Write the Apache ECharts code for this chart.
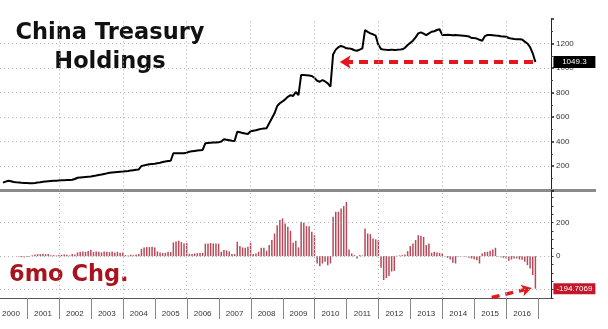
<!DOCTYPE html>
<html><head><meta charset="utf-8">
<script src="https://cdn.jsdelivr.net/npm/echarts@6/dist/echarts.min.js"></script>
<style>html,body{margin:0;padding:0;background:#fff}#c{width:608px;height:329px}</style>
</head><body><div id="c"></div>
<script>
// Year categories for the bottom axis
const years = ['2000','2001','2002','2003','2004','2005','2006','2007','2008','2009','2010','2011','2012','2013','2014','2015','2016'];
// Monthly data, first month = March 2000, last = November 2016 (201 months)
const firstMonth = '2000-03';
// China Treasury holdings ($bn)
const holdings = [
  64, 72, 80, 76, 70, 67, 65, 63, 62, 61,
  59, 60, 62, 65, 68, 72, 74, 76, 78, 79, 80, 82,
  83, 84, 85, 86, 88, 94, 104, 106, 108, 110, 112, 114,
  118, 122, 127, 130, 135, 140, 145, 147, 149, 151, 153, 155,
  158, 160, 163, 166, 169, 172, 200, 205, 210, 214, 216, 218,
  222, 226, 232, 236, 240, 243, 304, 304, 304, 304, 305, 308,
  317, 320, 323, 326, 329, 331, 385, 388, 390, 391, 392, 393,
  400, 418, 414, 410, 406, 404, 480, 475, 470, 465, 461, 484,
  488, 492, 498, 503, 506, 508, 549, 590, 630, 690, 712, 727,
  744, 765, 778, 772, 804, 779, 943, 942, 940, 938, 935, 920,
  896, 888, 902, 890, 875, 847, 1110, 1150, 1170, 1180, 1172, 1161,
  1160, 1155, 1145, 1141, 1150, 1161, 1310, 1295, 1283, 1275, 1264, 1190,
  1155, 1150, 1148, 1147, 1150, 1147, 1148, 1150, 1153, 1165, 1188, 1205,
  1223, 1250, 1283, 1291, 1280, 1269, 1282, 1296, 1300, 1310, 1316, 1270,
  1270, 1272, 1270, 1268, 1270, 1268, 1266, 1264, 1262, 1258, 1245, 1244,
  1240, 1230, 1223, 1260, 1269, 1270, 1268, 1265, 1263, 1260, 1258, 1255,
  1245, 1240, 1236, 1234, 1234, 1232, 1215, 1200, 1170, 1120, 1049.3
];
// 6-month change ($bn)
const change6m = [
  null, null, null, null, null, null, -4, -6, -8, -5,
  -3, 5, 10, 12, 12, 14, 12, 12, 5, 6, 4, 6,
  8, 10, 8, 4, 12, 10, 22, 26, 28, 26, 30, 38,
  24, 28, 26, 22, 28, 26, 24, 28, 22, 26, 20, 22,
  6, 4, 8, 6, 10, 12, 44, 52, 54, 54, 56, 52,
  28, 22, 18, 20, 26, 24, 82, 88, 92, 84, 76, 78,
  14, 12, 16, 18, 18, 20, 74, 76, 78, 76, 76, 74,
  26, 36, 34, 28, 12, 12, 86, 60, 52, 50, 56, 80,
  12, 16, 26, 50, 50, 32, 66, 96, 135, 185, 215, 225,
  195, 175, 151, 80, 92, 52, 205, 200, 179, 179, 145, 125,
  -44, -60, -44, -34, -54, -44, 235, 265, 265, 285, 299, 324,
  40, 16, 6, -14, 6, 4, 165, 135, 131, 105, 100, 95,
  -70, -143, -131, -119, -92, -88, 2, 4, 6, 10, 30, 60,
  76, 96, 125, 121, 115, 66, 76, 20, 26, 22, 20, 15,
  -3, -10, -20, -40, -44, -3, -2, -2, -4, -10, -14, -18,
  -24, -44, 16, 24, 26, 32, 40, 50, -4, -6, -10, -14,
  -28, -20, -14, -14, -20, -22, -34, -54, -74, -113, -194.7069
];
const upperTicks = [200, 400, 600, 800, 1000, 1200];
const lowerGridValues = [-200, 0, 200];
const lowerLabelValues = [-200, 0, 200];
const lastHolding = '1049.3';
const lastChange = '-194.7069';

const n = holdings.length;
const lastI = n - 1;
const lineData = holdings.map((v, i) => [i, v]);
const barData = change6m.map((v, i) => [i, v]);
// month index of each even-year boundary (December month-end of previous year)
const boundaryIdx = years.filter(y => +y % 2 === 0 && +y > 2000).map(y => (+y - 2000) * 12 - 3);
// year bands: [center month index, end boundary month index]
const yearBands = years.map((y, k) => [k * 12 + 3, k * 12 + 9]);

const XMIN = -1.127, XMAX = 205.86, LMIN = -250, LMAX = 390;
const dotted = { color: '#b8b8b8', width: 1, type: [1.2, 2.8] };
const TITLE_FONT = 'bold 22.5px "DejaVu Sans"';
const errs = [];

const chart = echarts.init(document.getElementById('c'), null, { renderer: 'canvas' });
try {
chart.setOption({
  animation: false,
  backgroundColor: '#fff',
  grid: [
    { left: 0, right: 57, top: 19, height: 171.5 },
    { left: 0, right: 57, top: 190.8, height: 107.2 }
  ],
  xAxis: [
    { type: 'value', gridIndex: 0, min: XMIN, max: XMAX, axisLabel: { show: false }, axisTick: { show: false },
      splitLine: { show: false }, axisLine: { show: true, onZero: false, lineStyle: { color: '#8a8a8a', width: 3 } } },
    { type: 'value', gridIndex: 1, min: XMIN, max: XMAX, axisLabel: { show: false }, axisTick: { show: false },
      splitLine: { show: false }, axisLine: { show: true, onZero: false, lineStyle: { color: '#555', width: 1 } } }
  ],
  yAxis: [
    { type: 'value', gridIndex: 0, position: 'right', min: 0, max: 1400, interval: 200,
      axisLine: { show: true, onZero: false, lineStyle: { color: '#222', width: 1 } },
      axisTick: { show: true, length: 3, lineStyle: { color: '#222', width: 1.5 } },
      minorTick: { show: true, splitNumber: 2, length: 2, lineStyle: { color: '#444' } },
      splitLine: { show: true, showMinLine: false, showMaxLine: false, lineStyle: dotted },
      axisLabel: { fontSize: 8, color: '#333', margin: 5, fontFamily: 'Liberation Sans',
        formatter: v => (upperTicks.indexOf(v) >= 0 ? String(v) : '') } },
    { type: 'value', gridIndex: 1, position: 'right', min: LMIN, max: LMAX, interval: 50,
      axisLine: { show: true, onZero: false, lineStyle: { color: '#222', width: 1 } },
      axisTick: { show: true, length: 2.5, lineStyle: { color: '#333', width: 1 } },
      splitLine: { show: false },
      axisLabel: { fontSize: 8, color: '#333', margin: 5, fontFamily: 'Liberation Sans',
        formatter: v => (lowerLabelValues.indexOf(v) >= 0 ? String(v) : '') } }
  ],
  series: [
    { id: 'line', type: 'line', name: 'Holdings', xAxisIndex: 0, yAxisIndex: 0, data: lineData, showSymbol: false, symbol: 'none',
      lineStyle: { color: '#000', width: 2 }, z: 3, silent: true },
    { id: 'bar', type: 'bar', name: '6mo Chg.', xAxisIndex: 1, yAxisIndex: 1, data: barData, barWidth: 1.5,
      itemStyle: { color: '#b94a5a' }, z: 3, silent: true },
    { id: 'years', type: 'custom', xAxisIndex: 1, yAxisIndex: 1, data: yearBands, clip: false, silent: true, z: 2,
      renderItem: function (params, api) {
        const c = api.coord([api.value(0), LMIN]);
        const b = api.coord([api.value(1), LMIN]);
        return { type: 'group', children: [
          { type: 'text', x: c[0], y: c[1] + 16, style: { text: years[params.dataIndex], fill: '#333',
            font: '8px "Liberation Sans"', align: 'center', verticalAlign: 'middle' } },
          { type: 'line', shape: { x1: Math.round(b[0]) + 0.5, y1: b[1], x2: Math.round(b[0]) + 0.5, y2: b[1] + 21 },
            style: { stroke: '#888', lineWidth: 1 } }
        ] };
      } }
  ],
  graphic: [
    { type: 'line', shape: { x1: 551, y1: 190.5, x2: 596, y2: 190.5 }, style: { stroke: '#8a8a8a', lineWidth: 3 }, silent: true },
    { type: 'text', x: 110, y: 33.5, style: { text: 'China Treasury', font: TITLE_FONT, fill: '#111', align: 'center', verticalAlign: 'middle' } },
    { type: 'text', x: 110, y: 62.5, style: { text: 'Holdings', font: TITLE_FONT, fill: '#111', align: 'center', verticalAlign: 'middle' } },
    { type: 'text', x: 9, y: 275, style: { text: '6mo Chg.', font: TITLE_FONT, fill: '#a8141e', align: 'left', verticalAlign: 'middle' } }
  ]
});
} catch (e) { errs.push('base: ' + e.message); }

try {
chart.setOption({ series: [
  { id: 'line',
    markLine: { silent: true, label: { show: false }, animation: false, symbol: 'none',
      lineStyle: dotted,
      data: boundaryIdx.map(x => ({ xAxis: x })) } },
  { id: 'bar',
    markLine: { silent: true, label: { show: false }, animation: false, symbol: 'none',
      lineStyle: dotted,
      data: boundaryIdx.map(x => ({ xAxis: x })).concat(lowerGridValues.map(y => ({ yAxis: y }))) } }
] });
} catch (e) { errs.push('grid: ' + e.message); }

try {
chart.setOption({ series: [
  { id: 'line',
    markPoint: { silent: true, animation: false,
      data: [{ coord: [lastI, +lastHolding], symbol: 'rect', symbolSize: [42, 12], symbolOffset: [39, 0],
        itemStyle: { color: '#000' },
        label: { show: true, position: 'inside', formatter: lastHolding, color: '#fff', fontSize: 8, fontFamily: 'Liberation Sans' } }] } },
  { id: 'bar',
    markPoint: { silent: true, animation: false,
      data: [{ coord: [lastI, +lastChange], symbol: 'rect', symbolSize: [42, 11], symbolOffset: [39, 0],
        itemStyle: { color: '#c3182b' },
        label: { show: true, position: 'inside', formatter: lastChange, color: '#fff', fontSize: 8, fontFamily: 'Liberation Sans' } }] } }
] });
} catch (e) { errs.push('tags: ' + e.message); }

// red dashed arrows as extra line series (drawn through the axes)
const headOnly = (v, p) => (p.dataIndex === 1 ? 'arrow' : 'none');
try {
chart.setOption({ series: [
  { id: 'line' }, { id: 'bar' }, { id: 'years' },
  { id: 'arrowTop', type: 'line', xAxisIndex: 0, yAxisIndex: 0, silent: true, z: 4,
    data: [[lastI - 0.9, +lastHolding], [126.5, +lastHolding]], symbol: headOnly, showSymbol: true,
    symbolSize: [10, 11], symbolRotate: 90, showAllSymbol: true,
    itemStyle: { color: '#e5161d' }, lineStyle: { color: '#e5161d', width: 4, type: [9, 6] } },
  { id: 'arrowBot', type: 'line', xAxisIndex: 1, yAxisIndex: 1, silent: true, z: 4,
    data: [[183.6, -247], [198.6, -190]], symbol: headOnly, showSymbol: true,
    symbolSize: [9, 10], symbolRotate: -75, showAllSymbol: true,
    itemStyle: { color: '#e5161d' }, lineStyle: { color: '#e5161d', width: 3.5, type: [8, 6] } }
] });
} catch (e) { errs.push('arrows: ' + e.message); }

if (errs.length) setTimeout(() => { throw new Error(errs.join(' | ')); }, 0);
</script>
</body></html>
